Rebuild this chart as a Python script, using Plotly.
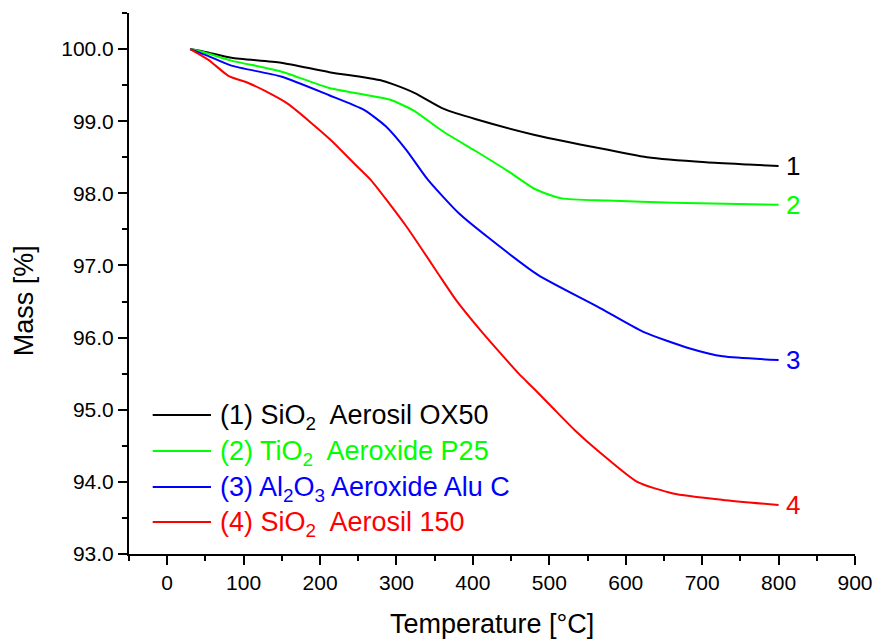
import plotly.graph_objects as go

# Thermogravimetric curves: temperature [°C] vs. remaining mass [%]
t_ox50 = [30, 50, 84, 149, 212, 257, 278, 296, 324, 362, 403, 481, 554, 628, 705, 760, 800]
m_ox50 = [100.0, 99.96, 99.88, 99.81, 99.68, 99.61, 99.57, 99.51, 99.39, 99.17, 99.03, 98.81, 98.65, 98.50, 98.43, 98.40, 98.38]

t_p25 = [30, 50, 84, 149, 212, 257, 291, 322, 362, 403, 447, 481, 516, 576, 662, 800]
m_p25 = [100.0, 99.95, 99.84, 99.69, 99.46, 99.37, 99.30, 99.15, 98.85, 98.59, 98.30, 98.06, 97.93, 97.90, 97.87, 97.84]

t_aluc = [30, 50, 84, 149, 212, 257, 286, 313, 341, 382, 421, 485, 563, 623, 684, 727, 800]
m_aluc = [100.0, 99.92, 99.77, 99.62, 99.36, 99.16, 98.93, 98.60, 98.19, 97.72, 97.38, 96.87, 96.43, 96.08, 95.85, 95.74, 95.69]

t_a150 = [30, 54, 80, 106, 128, 158, 214, 244, 266, 313, 360, 378, 410, 438, 460, 481, 505, 533, 567, 615, 662, 727, 800]
m_a150 = [100.0, 99.85, 99.63, 99.53, 99.42, 99.24, 98.74, 98.42, 98.19, 97.54, 96.80, 96.52, 96.10, 95.76, 95.50, 95.28, 95.02, 94.72, 94.40, 94.00, 93.84, 93.75, 93.68]

series_t = [t_ox50, t_p25, t_aluc, t_a150]
series_m = [m_ox50, m_p25, m_aluc, m_a150]
series_names = [
    "(1) SiO<sub>2</sub>\u00a0 Aerosil OX50",
    "(2) TiO<sub>2</sub>\u00a0 Aeroxide P25",
    "(3) Al<sub>2</sub>O<sub>3</sub> Aeroxide Alu C",
    "(4) SiO<sub>2</sub>\u00a0 Aerosil 150",
]
end_labels = ["1", "2", "3", "4"]
colors = ["#000000", "#00ff00", "#0000ff", "#ff0000"]

FONT = "Liberation Sans, Arial, sans-serif"

# Plot-area geometry in pixels (used to place the hand-built legend)
W, H = 885, 639
ML, MR, MT, MB = 129, 21, 13, 85
PW, PH = W - ML - MR, H - MT - MB


def px_x(x):
    return (x - ML) / PW


def px_y(y):
    return (H - MB - y) / PH


fig = go.Figure()
for t, m, c, lab in zip(series_t, series_m, colors, end_labels):
    fig.add_trace(go.Scatter(
        x=t, y=m, mode="lines",
        line=dict(color=c, width=2, shape="spline", smoothing=0.6),
        showlegend=False, hoverinfo="skip",
    ))
    # curve number at the right end of each curve
    fig.add_annotation(
        x=t[-1], y=m[-1], text=lab, showarrow=False,
        xanchor="left", yanchor="middle", xshift=5,
        font=dict(family=FONT, size=26, color=c),
    )

# Legend: line sample + coloured label per series
row_y = [415, 451, 487, 522]
for name, c, ry in zip(series_names, colors, row_y):
    fig.add_shape(
        type="line", xref="paper", yref="paper",
        x0=px_x(153), x1=px_x(212), y0=px_y(ry), y1=px_y(ry),
        line=dict(color=c, width=2),
    )
    fig.add_annotation(
        xref="paper", yref="paper", x=px_x(219), y=px_y(ry + 2),
        text=name, showarrow=False, xanchor="left", yanchor="middle",
        font=dict(family=FONT, size=27, color=c),
    )

# Axis titles
fig.add_annotation(
    xref="paper", yref="paper", x=0.5, y=px_y(624),
    text="Temperature [°C]", showarrow=False, xanchor="center", yanchor="middle",
    font=dict(family=FONT, size=27, color="#000000"),
)
fig.add_annotation(
    xref="paper", yref="paper", x=px_x(23), y=px_y(301),
    text="Mass [%]", showarrow=False, textangle=-90,
    xanchor="center", yanchor="middle",
    font=dict(family=FONT, size=27, color="#000000"),
)

axis_common = dict(
    showline=True, linecolor="#000000", linewidth=2, mirror=False,
    showgrid=False, zeroline=False,
    ticks="outside", ticklen=9, tickwidth=2, tickcolor="#000000",
    tickfont=dict(family=FONT, size=21, color="#000000"),
)

fig.update_xaxes(
    range=[-50, 900], tick0=0, dtick=100,
    minor=dict(ticks="outside", dtick=50, ticklen=5, tickwidth=2, tickcolor="#000000"),
    **axis_common,
)
fig.update_yaxes(
    range=[93, 100.5], tick0=93, dtick=1, tickformat=".1f",
    minor=dict(ticks="outside", dtick=0.5, ticklen=5, tickwidth=2, tickcolor="#000000"),
    **axis_common,
)

fig.update_layout(
    width=W, height=H,
    margin=dict(l=ML, r=MR, t=MT, b=MB),
    paper_bgcolor="#ffffff", plot_bgcolor="#ffffff",
    font=dict(family=FONT),
)

fig.write_html("out.html")
